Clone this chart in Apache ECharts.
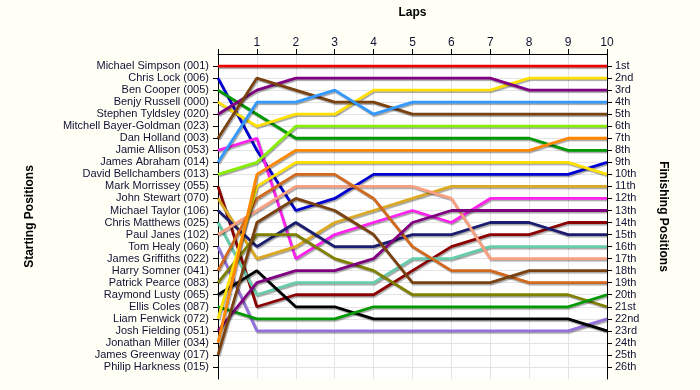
<!DOCTYPE html>
<html>
<head>
<meta charset="utf-8">
<script src="https://cdn.jsdelivr.net/npm/echarts@6/dist/echarts.min.js"></script>
<style>
  html, body { margin: 0; padding: 0; background: #fffff6; }
  #chart { width: 700px; height: 390px; }
</style>
</head>
<body>
<div id="chart"></div>
<script>
const laps = [0, 1, 2, 3, 4, 5, 6, 7, 8, 9, 10];
const lapTickLabels = ['1', '2', '3', '4', '5', '6', '7', '8', '9', '10'];
const startingNames = [
  'Michael Simpson (001)', 'Chris Lock (006)', 'Ben Cooper (005)', 'Benjy Russell (000)',
  'Stephen Tyldsley (020)', 'Mitchell Bayer-Goldman (023)', 'Dan Holland (003)', 'Jamie Allison (053)',
  'James Abraham (014)', 'David Bellchambers (013)', 'Mark Morrissey (055)', 'John Stewart (070)',
  'Michael Taylor (106)', 'Chris Matthews (025)', 'Paul Janes (102)', 'Tom Healy (060)',
  'James Griffiths (022)', 'Harry Somner (041)', 'Patrick Pearce (083)', 'Raymond Lusty (065)',
  'Ellis Coles (087)', 'Liam Fenwick (072)', 'Josh Fielding (051)', 'Jonathan Miller (034)',
  'James Greenway (017)', 'Philip Harkness (015)'
];
const finishLabels = [
  '1st', '2nd', '3rd', '4th', '5th', '6th', '7th', '8th', '9th', '10th', '11th', '12th', '13th',
  '14th', '15th', '16th', '17th', '18th', '19th', '20th', '21st', '22nd', '23rd', '24th', '25th', '26th'
];

// position of each driver at laps 0..10
const posSimpson      = [1, 1, 1, 1, 1, 1, 1, 1, 1, 1, 1];
const posLock         = [2, 8, 13, 12, 10, 10, 10, 10, 10, 10, 9];
const posCooper       = [3, 5, 7, 7, 7, 7, 7, 7, 7, 8, 8];
const posRussell      = [4, 6, 5, 5, 3, 3, 3, 3, 2, 2, 2];
const posTyldsley     = [5, 3, 2, 2, 2, 2, 2, 2, 3, 3, 3];
const posHolland      = [7, 2, 3, 4, 4, 5, 5, 5, 5, 5, 5];
const posAllison      = [8, 7, 17, 15, 14, 13, 14, 12, 12, 12, 12];
const posAbraham      = [9, 4, 4, 3, 5, 4, 4, 4, 4, 4, 4];
const posBellchambers = [10, 9, 6, 6, 6, 6, 6, 6, 6, 6, 6];
const posMorrissey    = [11, 21, 20, 20, 20, 18, 16, 15, 15, 14, 14];
const posStewart      = [12, 17, 16, 14, 13, 12, 11, 11, 11, 11, 11];
const posTaylor       = [13, 16, 14, 16, 16, 15, 15, 14, 14, 15, 15];
const posMatthews     = [14, 20, 19, 19, 19, 17, 17, 16, 16, 16, 16];
const posJanes        = [15, 13, 11, 11, 11, 11, 12, 17, 17, 17, 17];
const posHealy        = [16, 23, 23, 23, 23, 23, 23, 23, 23, 23, 22];
const posSomner       = [18, 12, 10, 10, 12, 16, 18, 18, 19, 19, 19];
const posPearce       = [19, 15, 15, 17, 18, 20, 20, 20, 20, 20, 21];
const posLusty        = [20, 18, 21, 21, 22, 22, 22, 22, 22, 22, 23];
const posColes        = [21, 22, 22, 22, 21, 21, 21, 21, 21, 21, 20];
const posFenwick      = [22, 11, 9, 9, 9, 9, 9, 9, 9, 9, 10];
const posFielding     = [23, 19, 18, 18, 17, 14, 13, 13, 13, 13, 13];
const posMiller       = [24, 10, 8, 8, 8, 8, 8, 8, 8, 7, 7];
const posGreenway     = [25, 14, 12, 13, 15, 19, 19, 19, 18, 18, 18];

const driverSeries = [
  ['Michael Simpson (001)', posSimpson, '#ee0000'],
  ['Chris Lock (006)', posLock, '#0000d0'],
  ['Ben Cooper (005)', posCooper, '#009a00'],
  ['Benjy Russell (000)', posRussell, '#ffe000'],
  ['Stephen Tyldsley (020)', posTyldsley, '#800080'],
  ['Dan Holland (003)', posHolland, '#7a4210'],
  ['Jamie Allison (053)', posAllison, '#ff22ee'],
  ['James Abraham (014)', posAbraham, '#3399ff'],
  ['David Bellchambers (013)', posBellchambers, '#88ee00'],
  ['Mark Morrissey (055)', posMorrissey, '#8b0000'],
  ['John Stewart (070)', posStewart, '#dbaa22'],
  ['Michael Taylor (106)', posTaylor, '#1c1c70'],
  ['Chris Matthews (025)', posMatthews, '#66ccaa'],
  ['Paul Janes (102)', posJanes, '#f8a080'],
  ['Tom Healy (060)', posHealy, '#9370db'],
  ['Harry Somner (041)', posSomner, '#d2691e'],
  ['Patrick Pearce (083)', posPearce, '#808000'],
  ['Raymond Lusty (065)', posLusty, '#000000'],
  ['Ellis Coles (087)', posColes, '#009a00'],
  ['Liam Fenwick (072)', posFenwick, '#ffe000'],
  ['Josh Fielding (051)', posFielding, '#800080'],
  ['Jonathan Miller (034)', posMiller, '#ff8800'],
  ['James Greenway (017)', posGreenway, '#7a4210']
];

const rowValues = startingNames.map((_, i) => i + 1);
const labelFont = { fontFamily: 'Liberation Sans, Arial, sans-serif', fontSize: 11, color: '#111133' };

const chart = echarts.init(document.getElementById('chart'), null, { renderer: 'canvas' });
chart.setOption({
  backgroundColor: '#fffff6',
  animation: false,
  grid: { left: 218, right: 93, top: 54, bottom: 11, show: true, backgroundColor: '#ffffff', borderWidth: 0 },
  xAxis: {
    type: 'value', position: 'top', min: 0, max: 10, interval: 1,
    name: 'Laps', nameLocation: 'middle', nameGap: 35,
    nameTextStyle: { fontFamily: 'Liberation Sans, Arial, sans-serif', fontSize: 12, fontWeight: 'bold', color: '#000' },
    axisLine: { lineStyle: { color: '#000', width: 1 } },
    axisTick: { inside: false, length: 5, lineStyle: { color: '#000' } },
    axisLabel: Object.assign({}, labelFont, { fontSize: 12, margin: 5,
      formatter: v => (v >= 1 ? lapTickLabels[v - 1] : '') }),
    splitLine: { show: true, lineStyle: { color: '#e4e4e4', width: 1 } }
  },
  yAxis: [
    {
      type: 'value', inverse: true, min: 0, max: 27, interval: 1, position: 'left',
      name: 'Starting Positions', nameLocation: 'middle', nameGap: 182, nameRotate: 90,
      nameTextStyle: { fontFamily: 'Liberation Sans, Arial, sans-serif', fontSize: 12, fontWeight: 'bold', color: '#000' },
      axisLine: { show: true, lineStyle: { color: '#000', width: 1 } },
      axisTick: { show: true, length: 5, customValues: rowValues, lineStyle: { color: '#000' } },
      axisLabel: Object.assign({}, labelFont, { margin: 9, customValues: rowValues,
        formatter: v => startingNames[v - 1] || '' }),
      splitLine: { show: true, lineStyle: { color: '#e4e4e4', width: 1 } }
    },
    {
      type: 'value', inverse: true, min: 0, max: 27, interval: 1, position: 'right',
      name: 'Finishing Positions', nameLocation: 'middle', nameGap: 50, nameRotate: -90,
      nameTextStyle: { fontFamily: 'Liberation Sans, Arial, sans-serif', fontSize: 12, fontWeight: 'bold', color: '#000' },
      axisLine: { show: true, lineStyle: { color: '#000', width: 1 } },
      axisTick: { show: true, length: 5, customValues: rowValues, lineStyle: { color: '#000' } },
      axisLabel: Object.assign({}, labelFont, { margin: 8, customValues: rowValues,
        formatter: v => finishLabels[v - 1] || '' }),
      splitLine: { show: false }
    }
  ],
  series: driverSeries.map(([name, pos, color]) => ({
    name: name,
    type: 'line',
    yAxisIndex: 0,
    showSymbol: false,
    symbol: 'none',
    data: laps.map((lap, i) => [lap, pos[i]]),
    lineStyle: {
      color: color, width: 2.8,
      shadowColor: 'rgba(0,0,0,0.35)', shadowBlur: 1, shadowOffsetX: 1, shadowOffsetY: 1.5
    },
    emphasis: { disabled: true }
  }))
});
</script>
</body>
</html>
